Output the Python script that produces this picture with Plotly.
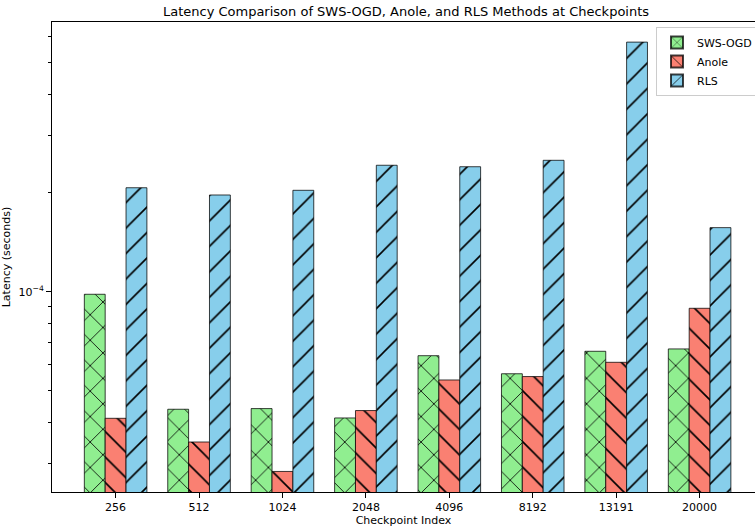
import plotly.graph_objects as go

# Checkpoints and per-method latency (seconds)
checkpoints = ["256", "512", "1024", "2048", "4096", "8192", "13191", "20000"]
sws_ogd = [9.82e-5, 4.38e-5, 4.40e-5, 4.12e-5, 6.38e-5, 5.62e-5, 6.58e-5, 6.69e-5]
anole = [4.11e-5, 3.48e-5, 2.83e-5, 4.34e-5, 5.38e-5, 5.51e-5, 6.09e-5, 8.90e-5]
rls = [2.075e-4, 1.972e-4, 2.038e-4, 2.43e-4, 2.405e-4, 2.516e-4, 5.77e-4, 1.568e-4]

series = [
    ("SWS-OGD", sws_ogd, "#90EE90", "x"),
    ("Anole", anole, "#FA8072", "\\"),
    ("RLS", rls, "#87CEEB", "/"),
]

FONT = "DejaVu Sans"

fig = go.Figure()
for name, vals, color, hatch in series:
    fig.add_trace(go.Bar(
        name=name,
        x=checkpoints,
        y=vals,
        marker=dict(
            color=color,
            line=dict(color="rgba(0,0,0,0.75)", width=1),
            pattern=dict(shape=hatch, size=18, solidity=0.09,
                         fgcolor="black", fgopacity=1),
        ),
    ))

minor_vals = [3e-5, 4e-5, 5e-5, 6e-5, 7e-5, 8e-5, 9e-5,
              2e-4, 3e-4, 4e-4, 5e-4, 6e-4]

fig.update_layout(
    width=755,
    height=528,
    margin=dict(l=52, r=0, t=22, b=36, autoexpand=False),
    paper_bgcolor="white",
    plot_bgcolor="white",
    barmode="group",
    bargap=0.25,
    bargroupgap=0,
    font=dict(family=FONT, size=11, color="black"),
    title=dict(
        text="Latency Comparison of SWS-OGD, Anole, and RLS Methods at Checkpoints",
        font=dict(family=FONT, size=13, color="black"),
        x=(406 / 755), xanchor="center", xref="container",
        y=1 - 11 / 528, yanchor="middle", yref="container",
    ),
    xaxis=dict(
        type="category",
        range=[-0.7625, 7.664],
        showline=True, linecolor="black", linewidth=1, mirror=True,
        ticks="outside", ticklen=5, tickcolor="black", tickwidth=1,
        showgrid=False, zeroline=False,
        tickfont=dict(family=FONT, size=11, color="black"),
        title=dict(text="Checkpoint Index", standoff=2,
                   font=dict(family=FONT, size=11, color="black")),
    ),
    yaxis=dict(
        type="log",
        range=[-4.6109, -3.1775],
        showline=True, linecolor="black", linewidth=1, mirror=False,
        ticks="outside", ticklen=5, tickcolor="black", tickwidth=1,
        tickmode="array", tickvals=[1e-4], ticktext=["10<sup>\u22124</sup>"],
        minor=dict(tickmode="array", tickvals=minor_vals, ticks="outside",
                   ticklen=3, tickcolor="black", tickwidth=0.8, showgrid=False),
        showgrid=False, zeroline=False,
        tickfont=dict(family=FONT, size=11, color="black"),
        title=dict(text="Latency (seconds)", standoff=6,
                   font=dict(family=FONT, size=11, color="black")),
    ),
    legend=dict(
        x=(656 - 52) / 703, xanchor="left", xref="paper",
        y=1 - 5 / 470, yanchor="top", yref="paper",
        bgcolor="rgba(255,255,255,0.8)",
        bordercolor="#cccccc", borderwidth=1,
        font=dict(family=FONT, size=11, color="black"),
        itemsizing="constant",
        itemwidth=30,
        tracegroupgap=0,
    ),
)

fig.write_html("out.html")
